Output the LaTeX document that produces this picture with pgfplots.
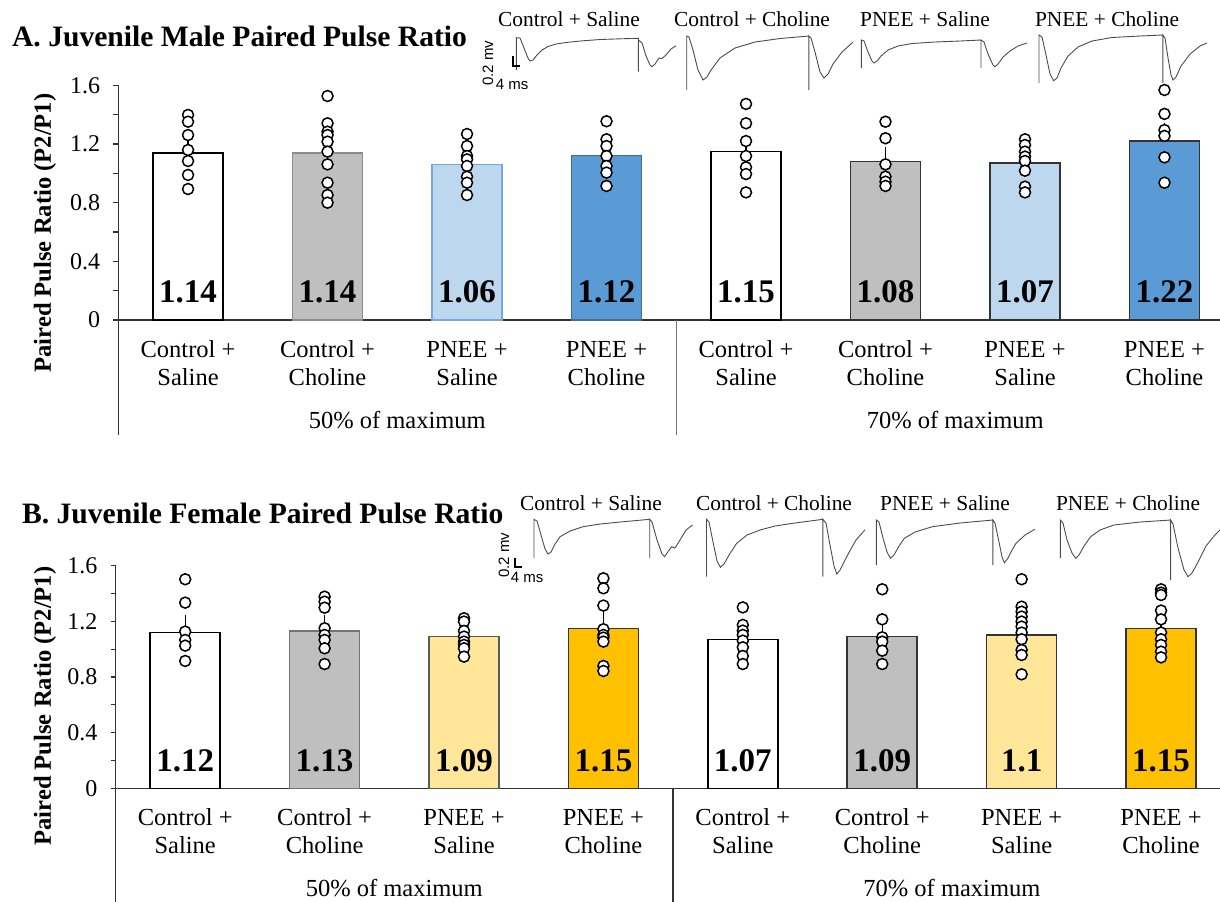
\documentclass[border=0pt]{standalone}
\usepackage{pgfplots}
\pgfplotsset{compat=1.18}
\usepackage{fontspec}
\setmainfont{Liberation Serif}
\newfontfamily\arialfont{Liberation Sans}

\definecolor{cgray}{HTML}{BFBFBF}
\definecolor{lblue}{HTML}{BDD7EE}
\definecolor{dblue}{HTML}{5B9BD5}
\definecolor{lyel}{HTML}{FFE699}
\definecolor{gold}{HTML}{FFC000}

\pgfplotsset{
  mybar/.style={ybar, bar width=35pt, bar shift=0pt, line width=0.75pt,
    error bars/y dir=plus, error bars/y explicit,
    error bars/error bar style={black, line width=0.6pt},
    error bars/error mark options={black, line width=0.6pt, mark size=3pt}},
  dots/.style={only marks, mark=*, mark size=2.75pt,
    mark options={fill=white, draw=black, line width=0.75pt}},
  trace/.style={no marks, line width=0.45pt, color=black!70},
  barax/.style={scale only axis, axis x line=bottom, axis y line=left,
    axis line style={-, black!80, line width=0.75pt},
    xtick=\empty, ymin=0, ymax=1.6, enlargelimits=false, clip=false,
    ytick={0,0.4,0.8,1.2,1.6}, yticklabels={0,0.4,0.8,1.2,1.6},
    minor ytick={0.2,0.6,1.0,1.4}, tick align=outside,
    major tick length=2.5pt, minor tick length=2.5pt,
    tick style={black!80, line width=0.6pt},
    yticklabel style={font=\fontsize{12}{14}\selectfont, xshift=-3pt}}
}
\tikzset{
  catf/.style={anchor=base, font=\fontsize{12.25}{14}\selectfont, inner sep=0pt},
  valf/.style={anchor=base, font=\bfseries\fontsize{16.5}{18}\selectfont, inner sep=0pt},
  insf/.style={anchor=base, font=\fontsize{10.7}{12}\selectfont, inner sep=0pt},
  sbf/.style={font=\arialfont\fontsize{7.5}{8}\selectfont, inner sep=0pt}
}
\newcommand\catlabels{%
\node[catf,yshift=-18.5pt] at (axis cs:0,0) {Control +};
\node[catf,yshift=-32.5pt] at (axis cs:0,0) {Saline};
\node[catf,yshift=-18.5pt] at (axis cs:1,0) {Control +};
\node[catf,yshift=-32.5pt] at (axis cs:1,0) {Choline};
\node[catf,yshift=-18.5pt] at (axis cs:2,0) {PNEE +};
\node[catf,yshift=-32.5pt] at (axis cs:2,0) {Saline};
\node[catf,yshift=-18.5pt] at (axis cs:3,0) {PNEE +};
\node[catf,yshift=-32.5pt] at (axis cs:3,0) {Choline};
\node[catf,yshift=-18.5pt] at (axis cs:4,0) {Control +};
\node[catf,yshift=-32.5pt] at (axis cs:4,0) {Saline};
\node[catf,yshift=-18.5pt] at (axis cs:5,0) {Control +};
\node[catf,yshift=-32.5pt] at (axis cs:5,0) {Choline};
\node[catf,yshift=-18.5pt] at (axis cs:6,0) {PNEE +};
\node[catf,yshift=-32.5pt] at (axis cs:6,0) {Saline};
\node[catf,yshift=-18.5pt] at (axis cs:7,0) {PNEE +};
\node[catf,yshift=-32.5pt] at (axis cs:7,0) {Choline};
\node[catf,yshift=-54pt] at (axis cs:1.5,0) {50\% of maximum};
\node[catf,yshift=-54pt] at (axis cs:5.5,0) {70\% of maximum};
}

\begin{document}
\begin{tikzpicture}
\useasboundingbox (0,0) rectangle (610pt,-450.5pt);

% ---------------- Panel A ----------------
\begin{axis}[barax, at={(59.15pt,-160pt)}, anchor=south west,
  width=550.85pt, height=117.35pt, xmin=-0.5, xmax=7.398]
\addplot[mybar, fill=white, draw=black] coordinates {(0,1.14) +- (0,0.07)};
\addplot[mybar, fill=cgray, draw=black!45] coordinates {(1,1.14) +- (0,0.07)};
\addplot[mybar, fill=lblue, draw=dblue!85] coordinates {(2,1.06) +- (0,0.05)};
\addplot[mybar, fill=dblue, draw=dblue!70!black] coordinates {(3,1.12) +- (0,0.05)};
\addplot[mybar, fill=white, draw=black] coordinates {(4,1.15) +- (0,0.07)};
\addplot[mybar, fill=cgray, draw=black!80] coordinates {(5,1.08) +- (0,0.06)};
\addplot[mybar, fill=lblue, draw=black!80] coordinates {(6,1.07) +- (0,0.04)};
\addplot[mybar, fill=dblue, draw=black!80] coordinates {(7,1.22) +- (0,0.08)};
\addplot[dots] coordinates {
 (0,1.398)(0,1.352)(0,1.261)(0,1.159)(0,1.084)(0,0.989)(0,0.893)
 (1,1.527)(1,1.341)(1,1.284)(1,1.261)(1,1.216)(1,1.148)(1,1.061)(1,0.936)(1,0.852)(1,0.800)
 (2,1.268)(2,1.186)(2,1.118)(2,1.095)(2,1.050)(2,0.977)(2,0.936)(2,0.852)
 (3,1.355)(3,1.232)(3,1.186)(3,1.118)(3,1.050)(3,1.005)(3,0.914)
 (4,1.473)(4,1.341)(4,1.220)(4,1.118)(4,1.041)(4,0.995)(4,0.870)
 (5,1.352)(5,1.239)(5,1.061)(5,0.977)(5,0.943)(5,0.914)
 (6,1.232)(6,1.193)(6,1.148)(6,1.114)(6,1.084)(6,1.018)(6,0.909)(6,0.870)
 (7,1.568)(7,1.405)(7,1.295)(7,1.255)(7,1.109)(7,0.936)
};
\node[valf,yshift=8.6pt] at (axis cs:0,0) {1.14};
\node[valf,yshift=8.6pt] at (axis cs:1,0) {1.14};
\node[valf,yshift=8.6pt] at (axis cs:2,0) {1.06};
\node[valf,yshift=8.6pt] at (axis cs:3,0) {1.12};
\node[valf,yshift=8.6pt] at (axis cs:4,0) {1.15};
\node[valf,yshift=8.6pt] at (axis cs:5,0) {1.08};
\node[valf,yshift=8.6pt] at (axis cs:6,0) {1.07};
\node[valf,yshift=8.6pt] at (axis cs:7,0) {1.22};
\catlabels
\draw[black!80, line width=0.75pt] (axis cs:-0.5,0) -- ++(0pt,-57.5pt);
\draw[black!55, line width=0.75pt] (axis cs:3.5,0) -- ++(0pt,-57.5pt);
\end{axis}

% ---------------- Panel B ----------------
\begin{axis}[barax, at={(57.75pt,-394.15pt)}, anchor=south west,
  width=552.25pt, height=111.35pt, xmin=-0.5, xmax=7.423]
\addplot[mybar, fill=white, draw=black] coordinates {(0,1.12) +- (0,0.08)};
\addplot[mybar, fill=cgray, draw=black!55] coordinates {(1,1.13) +- (0,0.075)};
\addplot[mybar, fill=lyel, draw=black!65] coordinates {(2,1.09) +- (0,0.03)};
\addplot[mybar, fill=gold, draw=black!80] coordinates {(3,1.15) +- (0,0.09)};
\addplot[mybar, fill=white, draw=black] coordinates {(4,1.07) +- (0,0.05)};
\addplot[mybar, fill=cgray, draw=black!80] coordinates {(5,1.09) +- (0,0.06)};
\addplot[mybar, fill=lyel, draw=black!80] coordinates {(6,1.10) +- (0,0.05)};
\addplot[mybar, fill=gold, draw=black!80] coordinates {(7,1.15) +- (0,0.05)};
\addplot[dots] coordinates {
 (0,1.502)(0,1.334)(0,1.126)(0,1.066)(0,1.025)(0,0.915)
 (1,1.377)(1,1.341)(1,1.298)(1,1.150)(1,1.102)(1,1.066)(1,1.006)(1,0.893)
 (2,1.222)(2,1.198)(2,1.131)(2,1.090)(2,1.054)(2,1.030)(2,1.006)(2,0.946)
 (3,1.509)(3,1.437)(3,1.313)(3,1.143)(3,1.102)(3,1.083)(3,1.054)(3,0.879)(3,0.843)
 (4,1.300)(4,1.174)(4,1.133)(4,1.102)(4,1.061)(4,1.013)(4,0.951)(4,0.893)
 (5,1.430)(5,1.214)(5,1.085)(5,1.054)(5,0.989)(5,0.893)
 (6,1.502)(6,1.305)(6,1.269)(6,1.234)(6,1.198)(6,1.162)(6,1.119)(6,1.071)(6,0.994)(6,0.958)(6,0.819)
 (7,1.430)(7,1.406)(7,1.389)(7,1.277)(7,1.214)(7,1.119)(7,1.071)(7,1.030)(7,0.982)(7,0.941)
};
\node[valf,yshift=8.3pt] at (axis cs:0,0) {1.12};
\node[valf,yshift=8.3pt] at (axis cs:1,0) {1.13};
\node[valf,yshift=8.3pt] at (axis cs:2,0) {1.09};
\node[valf,yshift=8.3pt] at (axis cs:3,0) {1.15};
\node[valf,yshift=8.3pt] at (axis cs:4,0) {1.07};
\node[valf,yshift=8.3pt] at (axis cs:5,0) {1.09};
\node[valf,yshift=8.3pt] at (axis cs:6,0) {1.1};
\node[valf,yshift=8.3pt] at (axis cs:7,0) {1.15};
\catlabels
\draw[black!80, line width=0.75pt] (axis cs:-0.5,0) -- ++(0pt,-60pt);
\draw[black!80, line width=0.75pt] (axis cs:3.5,0) -- ++(0pt,-60pt);
\end{axis}

% ---------------- Insets (pixel coordinates) ----------------
\begin{axis}[at={(0pt,-450.5pt)}, anchor=south west, scale only axis,
  width=610pt, height=450.5pt, xmin=0, xmax=1220, ymin=0, ymax=901,
  y dir=reverse, hide axis, clip=false]
% Panel A traces
\addplot[trace] coordinates {(516.4,37.7)(516.4,70)(516.4,37.7)(520,38)(524,48)(528,58)(530,61)(533,60)(537,55)(542,50)(548,46.5)(556,44)(566,42.5)(580,41)(600,39.5)(620,38.8)(638.4,38.3)(638.4,71.7)(638.4,40)(642,43)(646,56)(650,65)(652,66.7)(655,64)(659,58)(662,58.5)(666,55)(671,49)(676,45.7)};
\addplot[trace] coordinates {(686.7,36)(686.7,90)(686.7,36)(689,37)(693,50)(698,70)(703,80)(707,77)(711,70)(720,58)(735,48)(755,42)(780,38.5)(808.8,36)(808.8,90)(808.8,36)(811,38)(815,52)(820,72)(824,78)(828,74)(833,64)(842,52)(853,42)};
\addplot[trace] coordinates {(861.4,40)(861.4,68)(861.4,40)(864,41)(868,52)(872,61)(874,63)(877,61)(881,56)(888,50)(898,46)(912,43.5)(935,42)(960,41)(981,40)(981,68)(981,40)(984,42)(988,54)(993,65)(995,66.7)(998,64)(1003,57)(1010,51)(1018,46)(1027,43)};
\addplot[trace] coordinates {(1039,35)(1039,83)(1039,35)(1042,37)(1046,55)(1050,74)(1053.7,80.7)(1057,78)(1061,68)(1068,56)(1078,47)(1092,41)(1112,37.5)(1140,36)(1162.8,35)(1162.8,83)(1162.8,35)(1165,38)(1168,58)(1171,75)(1173,80)(1176,77)(1181,66)(1190,54)(1200,46)(1207,43)};
% Panel B traces
\addplot[trace] coordinates {(534,519.3)(534,558)(534,519.3)(537,521)(541,535)(545,549)(548,554)(551,552)(555,544)(560,536.7)(570,531)(583,526.7)(600,524)(620,522)(649.7,519.3)(649.7,558)(649.7,519.3)(652,522)(657,540)(662,554)(664.6,556.7)(667,553)(671.6,546.7)(675,548)(680,540)(686,530)(692.5,525)};
\addplot[trace] coordinates {(706.5,519.3)(706.5,576.7)(706.5,519.3)(709,522)(713,542)(717,561)(720.4,567.3)(724,564)(729,555)(736.7,543.3)(747,535)(760,530)(775,526)(792.6,523.3)(822.9,519.3)(822.9,576.7)(822.9,519.3)(826,523)(830,545)(834,566)(836.8,574)(840,570)(844,562)(848.5,553.3)(856,540)(864.8,530)};
\addplot[trace] coordinates {(876.4,520)(876.4,565)(876.4,520)(879,522)(883,538)(887,552)(890.4,558.3)(894,555)(899,546)(904.3,538.3)(915,532)(932.3,526.7)(960,523)(992.8,520)(992.8,565)(992.8,520)(995,523)(999,542)(1002,557)(1004.4,562.7)(1008,558)(1012,550)(1016,543.3)(1025,535)(1034.7,529.3)};
\addplot[trace] coordinates {(1060.3,520)(1060.3,558)(1060.3,520)(1063,523)(1067,540)(1072,553)(1075.7,558.3)(1079,555)(1084,546)(1090.6,536.7)(1100,530)(1113.8,525)(1140,522)(1170.6,520)(1170.6,580)(1170.6,520)(1173,524)(1178,548)(1184,570)(1188,576.7)(1192,573)(1198,562)(1206,546)(1214,536)(1220,530)};
% scale bars
\addplot[no marks, black, line width=1.2pt] coordinates {(513,56)(513,66)(520,66)};
\addplot[no marks, black, line width=1.2pt] coordinates {(515,558)(515,567)(522,567)};
\node[sbf, rotate=90] at (axis cs:488,63) {0.2 mv};
\node[sbf] at (axis cs:512,84) {4 ms};
\node[sbf, rotate=90] at (axis cs:504,555) {0.2 mv};
\node[sbf] at (axis cs:527,577) {4 ms};
% inset labels
\node[insf] at (axis cs:569,26) {Control + Saline};
\node[insf] at (axis cs:752,26) {Control + Choline};
\node[insf] at (axis cs:925,26) {PNEE + Saline};
\node[insf] at (axis cs:1107,26) {PNEE + Choline};
\node[insf] at (axis cs:591,510) {Control + Saline};
\node[insf] at (axis cs:774,510) {Control + Choline};
\node[insf] at (axis cs:945,510) {PNEE + Saline};
\node[insf] at (axis cs:1128,510) {PNEE + Choline};
\end{axis}

% titles and y labels
\node[anchor=base west, inner sep=0pt, font=\bfseries\fontsize{14.8}{17}\selectfont] at (5.85pt,-23pt) {A. Juvenile Male Paired Pulse Ratio};
\node[anchor=base west, inner sep=0pt, font=\bfseries\fontsize{14.8}{17}\selectfont] at (10.85pt,-261.5pt) {B. Juvenile Female Paired Pulse Ratio};
\node[rotate=90, inner sep=0pt, font=\bfseries\fontsize{12.3}{14}\selectfont] at (22.5pt,-116.5pt) {Paired Pulse Ratio (P2/P1)};
\node[rotate=90, inner sep=0pt, font=\bfseries\fontsize{12.3}{14}\selectfont] at (22.5pt,-353pt) {Paired Pulse Ratio (P2/P1)};
\end{tikzpicture}
\end{document}
